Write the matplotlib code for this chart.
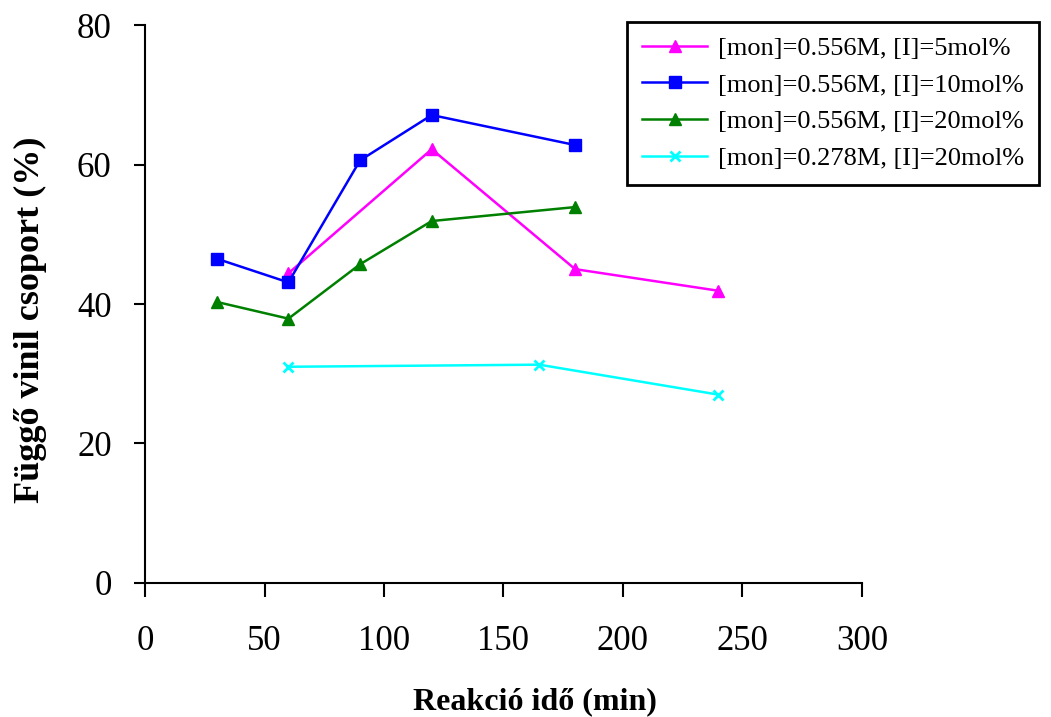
import matplotlib
matplotlib.use("Agg")
import matplotlib.pyplot as plt

# adatok (leolvasva)
x_5 = [60, 120, 180, 240]
y_5 = [44.4, 62.2, 45.0, 41.9]

x_10 = [30, 60, 90, 120, 180]
y_10 = [46.5, 43.1, 60.6, 67.1, 62.8]

x_20 = [30, 60, 90, 120, 180]
y_20 = [40.3, 37.9, 45.7, 51.9, 53.9]

x_278 = [60, 165, 240]
y_278 = [31.0, 31.3, 27.0]

labels = ["[mon]=0.556M, [I]=5mol%",
          "[mon]=0.556M, [I]=10mol%",
          "[mon]=0.556M, [I]=20mol%",
          "[mon]=0.278M, [I]=20mol%"]

plt.rcParams['font.family'] = ['Liberation Serif', 'DejaVu Serif']

fig = plt.figure(figsize=(10.51, 7.17), dpi=100)
ax = fig.add_axes([0.138, 0.187, 0.682, 0.778])

ax.plot(x_5, y_5, color='#FF00FF', marker='^', markersize=8, lw=1.8, label=labels[0])
ax.plot(x_10, y_10, color='#0000FF', marker='s', markersize=8, lw=1.8, label=labels[1])
ax.plot(x_20, y_20, color='#008000', marker='^', markersize=8, lw=1.8, label=labels[2])
ax.plot(x_278, y_278, color='#00FFFF', marker='x', markersize=7, mew=2, lw=1.8, label=labels[3])

ax.set_xlim(0, 300)
ax.set_ylim(0, 80)
ax.set_xticks(range(0, 301, 50))
ax.set_yticks(range(0, 81, 20))

for s in ['top', 'right']:
    ax.spines[s].set_visible(False)
for s in ['left', 'bottom']:
    ax.spines[s].set_linewidth(1.5)

ax.tick_params(axis='x', direction='out', length=10, width=1.5, pad=20, labelsize=25)
ax.tick_params(axis='y', direction='out', length=8, width=1.5, pad=16, labelsize=25)

# tengelyfeliratok
fig.text(535 / 1051, 1 - 702 / 717, "Reakció idő (min)", fontsize=23, fontweight='bold',
         ha='center', va='center')
fig.text(30 / 1051, 1 - 320 / 717, "Függő vinil csoport (%)", fontsize=26, fontweight='bold',
         ha='center', va='center', rotation=90)

leg = fig.legend(loc='upper left', bbox_to_anchor=(627 / 1051, 1 - 22 / 717), fontsize=19,
                 frameon=True, fancybox=False, handlelength=2.5, borderaxespad=0,
                 borderpad=0.55, labelspacing=0.5, handletextpad=0.4)
leg.get_frame().set_edgecolor('black')
leg.get_frame().set_linewidth(2)
leg.get_frame().set_alpha(1)

fig.savefig("out.png", dpi=100)
